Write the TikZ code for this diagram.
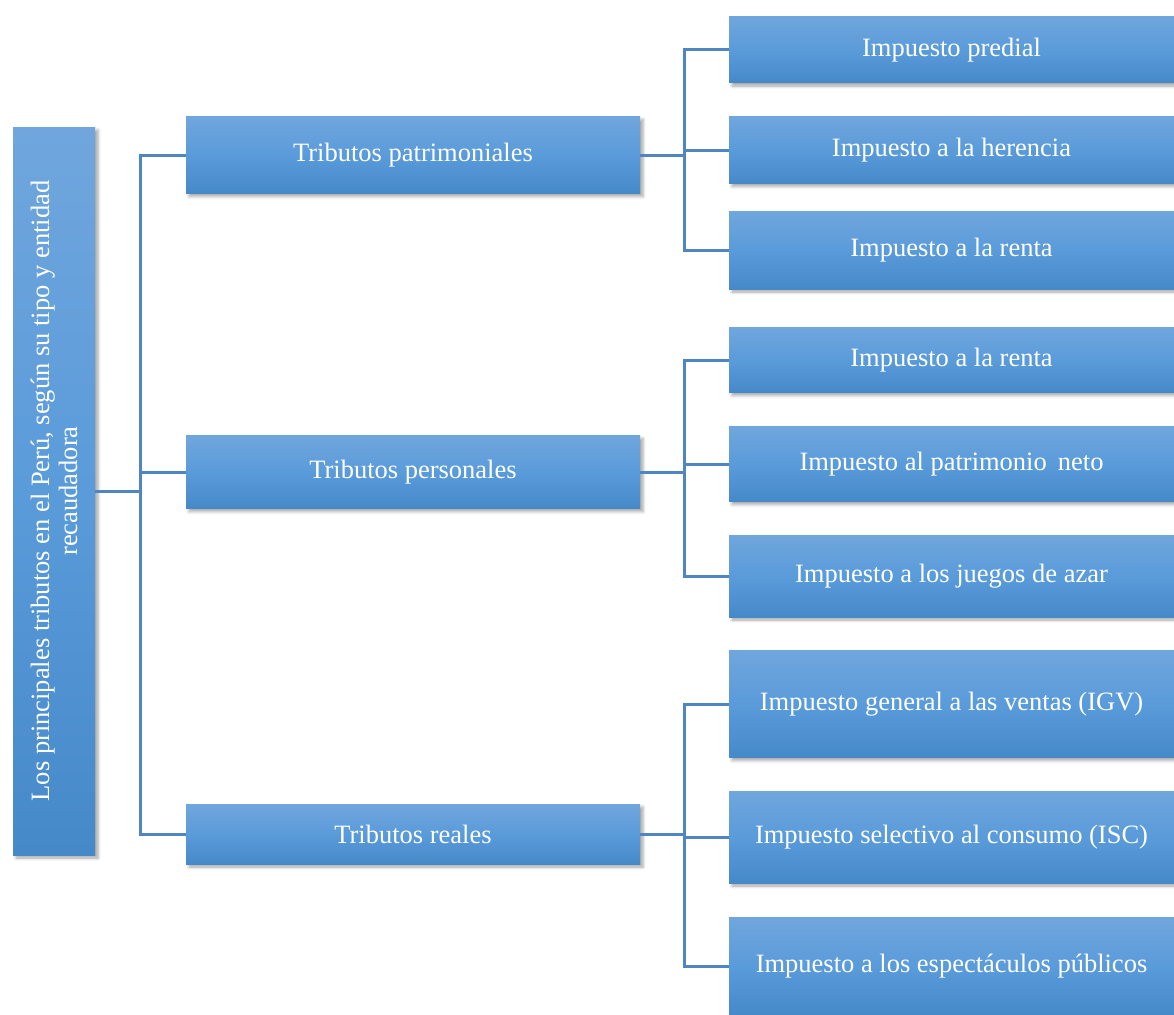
\documentclass[tikz,border=0pt]{standalone}
\usepackage{fontspec}
\setmainfont{Liberation Serif}
\usetikzlibrary{positioning,shadows.blur}
\definecolor{boxtop}{HTML}{70A6DD}
\definecolor{boxmid}{HTML}{5A9BDA}
\definecolor{boxbot}{HTML}{4689C9}
\definecolor{linkblue}{HTML}{4F86C1}

\begin{document}
\begin{tikzpicture}[x=1pt,y=-1pt,thick]
\tikzstyle{tbox}=[shape=rectangle,text=white,align=center,inner sep=0pt,top color=boxtop,bottom color=boxbot,middle color=boxmid,blur shadow={shadow xshift=3pt,shadow yshift=-3pt,shadow opacity=35,shadow blur radius=3pt},font=\fontsize{26.5}{28}\selectfont]
\tikzstyle{link}=[draw=linkblue,line width=3pt]

\useasboundingbox (0,0) rectangle (1174,1014);

% root, turned on its side
\node[tbox,rotate=90,minimum width=728pt,minimum height=82pt] (root) at (54,491) {Los principales tributos en el Perú, según su tipo y entidad\\recaudadora};

% tipos
\node[tbox,minimum width=454pt,minimum height=77pt] (patr) at (413,155) {Tributos patrimoniales};
\node[tbox,minimum width=454pt,minimum height=73pt] (pers) at (413,472) {Tributos personales};
\node[tbox,minimum width=454pt,minimum height=60pt] (real) at (413,834) {Tributos reales};

% impuestos
\node[tbox,minimum width=445pt,minimum height=66pt]  (pred)  at (951.5,50)  {Impuesto predial};
\node[tbox,minimum width=445pt,minimum height=67pt]  (here)  at (951.5,150) {Impuesto a la herencia};
\node[tbox,minimum width=445pt,minimum height=78pt]  (rent1) at (951.5,250) {Impuesto a la renta};
\node[tbox,minimum width=445pt,minimum height=65pt]  (rent2) at (951.5,360) {Impuesto a la renta};
\node[tbox,minimum width=445pt,minimum height=75pt]  (neto)  at (951.5,464) {Impuesto al patrimonio\, neto};
\node[tbox,minimum width=445pt,minimum height=82pt]  (azar)  at (951.5,576) {Impuesto a los juegos de azar};
\node[tbox,minimum width=445pt,minimum height=107pt] (igv)   at (951.5,704) {Impuesto general a las ventas (IGV)};
\node[tbox,minimum width=445pt,minimum height=92pt]  (isc)   at (951.5,837) {Impuesto selectivo al consumo (ISC)};
\node[tbox,minimum width=445pt,minimum height=97pt]  (espe)  at (951.5,966) {Impuesto a los espectáculos públicos};

\coordinate (hubA) at ([xshift=45pt]root.south);
\coordinate (hubB) at ([xshift=44pt]patr.east);
\coordinate (hubC) at ([xshift=44pt]pers.east);
\coordinate (hubD) at ([xshift=44pt]real.east);

\draw[link] (root.south) -- (hubA);
\draw[link] (patr.west) -| (hubA);
\draw[link] (real.west) -| (hubA);
\draw[link] (pers.west) -- (pers.west -| hubA);

\draw[link] (patr.east) -- (hubB);
\foreach \n in {pred,here,rent1} \draw[link] (\n.west) -| (hubB);
\draw[link] (pers.east) -- (hubC);
\foreach \n in {rent2,neto,azar} \draw[link] (\n.west) -| (hubC);
\draw[link] (real.east) -- (hubD);
\foreach \n in {igv,isc,espe} \draw[link] (\n.west) -| (hubD);
\end{tikzpicture}
\end{document}
